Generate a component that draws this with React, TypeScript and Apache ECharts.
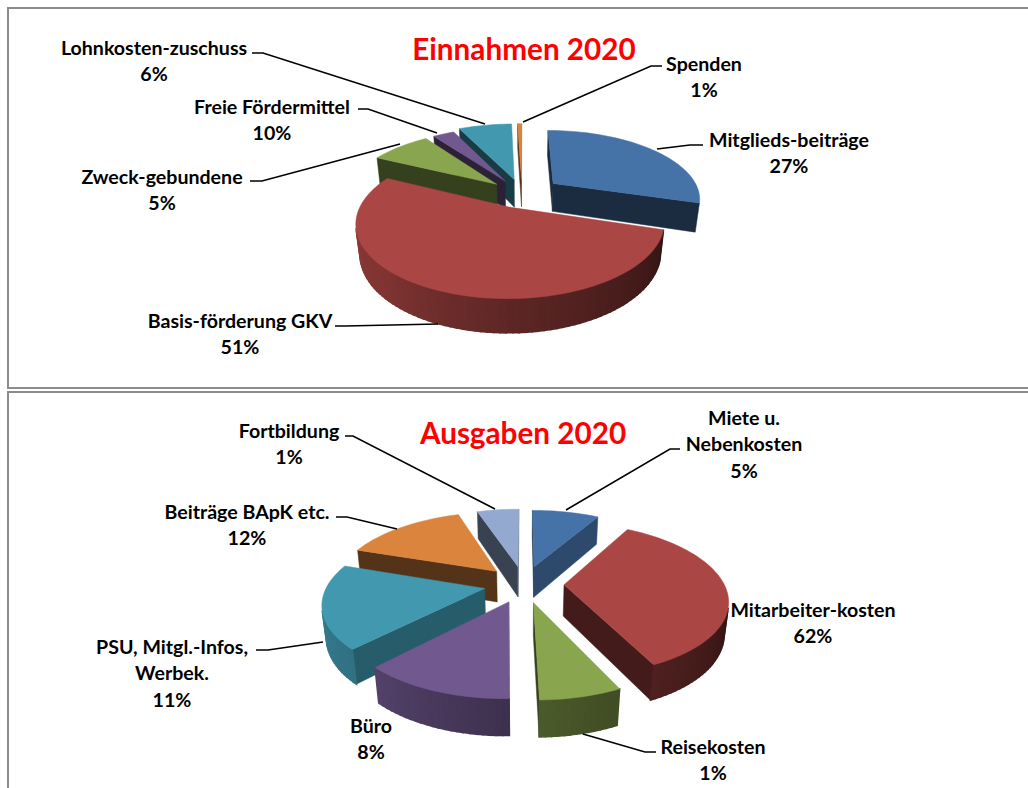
import React, { useEffect, useRef } from "react";
import * as echarts from "echarts";

// Data
const incomeTitle = "Einnahmen 2020";
const incomeCategories = ["Mitglieds-beiträge", "Basis-förderung GKV", "Zweck-gebundene", "Freie Fördermittel", "Lohnkosten-zuschuss", "Spenden"];
const incomePercentLabels = ["27%", "51%", "5%", "10%", "6%", "1%"];
const incomeSliceShares = [29.7, 52.5, 7.8, 2.8, 6.7, 0.5];

const expenseTitle = "Ausgaben 2020";
const expenseCategories = ["Miete u.\nNebenkosten", "Mitarbeiter-kosten", "Reisekosten", "Büro", "PSU, Mitgl.-Infos,\nWerbek.", "Beiträge BApK etc.", "Fortbildung"];
const expensePercentLabels = ["5%", "62%", "1%", "8%", "11%", "12%", "1%"];
const expenseSliceShares = [8.3, 34.7, 6.7, 12.5, 18, 14.7, 5.1];

// Styling and layout
const incomeColors = ["#4572a7", "#aa4643", "#89a54e", "#71588f", "#4198af", "#db843d"];
const expenseColors = ["#4572a7", "#aa4643", "#89a54e", "#71588f", "#4198af", "#db843d", "#93a9cf"];

const incomePie = { cx: 522, cy: 194, d: 640, H: 33, start: 0, radius: [147, 145, 152, 152, 160, 160], explode: [40, 30, 34, 34, 34, 34], colors: incomeColors };
const expensePie = { cx: 524, cy: 584, d: 780, H: 36, start: 0, radius: [157, 160, 157, 157, 157, 162, 160], explode: [40, 40, 40, 40, 40, 40, 40], colors: expenseColors };

const incomeLabelPos = [[789, 139], [240, 320], [162, 176], [272, 106], [154, 47], [704, 63]];
const expenseLabelPos = [[744, 417], [813, 609], [713, 746], [371, 725], [172, 646], [247, 511], [289, 430]];

const leaders = [
  [[703, 145], [690, 145], [657, 149]],
  [[335, 326], [345, 326], [438, 324]],
  [[250, 181], [262, 181], [400, 144]],
  [[358, 109], [368, 109], [437, 133]],
  [[252, 53], [263, 53], [485, 124]],
  [[662, 66], [651, 66], [523, 122]],
  [[680, 449], [670, 449], [566, 510]],
  [[583, 734], [645, 752], [656, 752]],
  [[256, 650], [268, 650], [323, 642]],
  [[336, 517], [347, 517], [397, 529]],
  [[345, 436], [353, 436], [495, 509]],
];

const SIN = 0.46;
const COS = Math.sqrt(1 - SIN * SIN);
const RAD = Math.PI / 180;
const FONT = '"Lato", "Noto Sans", sans-serif';
const LINE_H = 26.5;

function shade(hex: string, b: number) {
  const n = parseInt(hex.slice(1), 16);
  const c = [(n >> 16) & 255, (n >> 8) & 255, n & 255].map((v) => Math.round(v * b));
  return `rgb(${c[0]},${c[1]},${c[2]})`;
}

function piecewise(x: number, pts: number[][]) {
  if (x <= pts[0][0]) return pts[0][1];
  for (let i = 1; i < pts.length; i++) {
    if (x <= pts[i][0]) {
      const t = (x - pts[i - 1][0]) / (pts[i][0] - pts[i - 1][0]);
      return pts[i - 1][1] + t * (pts[i][1] - pts[i - 1][1]);
    }
  }
  return pts[pts.length - 1][1];
}

const outerShade = (phi: number) => {
  const p = ((phi % 360) + 360) % 360;
  return piecewise(p, [[100, 0.28], [180, 0.55], [226, 0.75], [280, 0.85], [360, 0.85]]);
};
const innerShade = (psi: number) => {
  const p = ((psi % 360) + 360) % 360;
  return piecewise(p, [[120, 0.65], [136, 0.6], [187, 0.39], [360, 0.39]]);
};

function sliceRenderer(cfg: any, shares: number[]) {
  const total = shares.reduce((a, b) => a + b, 0);
  const project = (X: number, Y: number, Z: number) => {
    const u = X;
    const v = Y * SIN + Z * COS;
    const w = Y * COS - Z * SIN;
    const s = cfg.d / (cfg.d + w);
    return [cfg.cx + u * s, cfg.cy - v * s];
  };
  const ranges: number[][] = [];
  let acc = cfg.start;
  shares.forEach((v) => {
    const a = (v / total) * 360;
    ranges.push([acc, acc + a]);
    acc += a;
  });
  const depthOrder = ranges
    .map((r, i) => {
      const mid = ((r[0] + r[1]) / 2) * RAD;
      return { i, y: Math.cos(mid) };
    })
    .sort((a, b) => b.y - a.y);
  const rank = (i: number) => depthOrder.findIndex((o) => o.i === i);

  return (params: any, api: any) => {
    const i = params.dataIndex;
    api.value(0);
    const [a0, a1] = ranges[i];
    const mid = ((a0 + a1) / 2) * RAD;
    const ex = cfg.explode[i];
    const R = cfg.radius[i];
    const ox = ex * Math.sin(mid);
    const oy = ex * Math.cos(mid);
    const pt = (phi: number, r: number, z: number) =>
      project(ox + r * Math.sin(phi * RAD), oy + r * Math.cos(phi * RAD), z);
    const color = cfg.colors[i];
    const base = (rank(i) + 1) * 1000;
    const children: any[] = [];
    let n = 0;
    const poly = (points: number[][], fill: string, lw: number) => {
      children.push({
        type: "polygon",
        silent: true,
        z2: base + n++,
        shape: { points },
        style: { fill, stroke: fill, lineWidth: lw },
      });
    };
    const visible = (q: number[][]) => {
      let sum = 0;
      q.forEach((p, k) => {
        const r = q[(k + 1) % q.length];
        sum += p[0] * r[1] - r[0] * p[1];
      });
      return sum < 0;
    };
    const wall = (A: number[], B: number[], A2: number[], B2: number[], fill: string, lw: number) => {
      const q = [A, B, B2, A2];
      if (visible(q)) poly(q, fill, lw);
    };
    const apexT = pt(0, 0, 0);
    const apexB = pt(0, 0, -cfg.H);
    wall(apexT, pt(a0, R, 0), apexB, pt(a0, R, -cfg.H), shade(color, innerShade(a0 - 90)), 0.5);
    wall(pt(a1, R, 0), apexT, pt(a1, R, -cfg.H), apexB, shade(color, innerShade(a1 + 90)), 0.5);
    const steps = Math.max(1, Math.ceil((a1 - a0) / 2));
    const top: number[][] = [apexT];
    for (let k = 0; k <= steps; k++) {
      const p = a0 + ((a1 - a0) * k) / steps;
      top.push(pt(p, R, 0));
      if (k < steps) {
        const q = a0 + ((a1 - a0) * (k + 1)) / steps;
        wall(pt(p, R, 0), pt(q, R, 0), pt(p, R, -cfg.H), pt(q, R, -cfg.H), shade(color, outerShade((p + q) / 2)), 1.5);
      }
    }
    poly(top, color, 0.5);
    return { type: "group", children };
  };
}

function labelElements(names: string[], percents: string[], pos: number[][]) {
  const out: any[] = [];
  names.forEach((name, i) => {
    const lines = [...name.split("\n"), percents[i]];
    lines.forEach((t, k) => {
      out.push({
        type: "text",
        z: 100,
        silent: true,
        style: {
          text: t,
          x: pos[i][0],
          y: pos[i][1] + k * LINE_H,
          align: "center",
          verticalAlign: "middle",
          fontFamily: FONT,
          fontWeight: "bold",
          fontSize: 19.6,
          fill: "#000",
        },
      });
    });
  });
  return out;
}

const frameRect = (x: number, y: number, width: number, height: number) => ({
  type: "rect",
  z: 101,
  silent: true,
  shape: { x, y, width, height },
  style: { fill: "#8c8c8c" },
});

const titleEl = (text: string, x: number, y: number) => ({
  type: "text",
  z: 100,
  silent: true,
  style: { text, x, y, align: "center", verticalAlign: "middle", fontFamily: FONT, fontWeight: "bold", fontSize: 29.7, fill: "#ff0000" },
});

export default function App() {
  const ref = useRef<HTMLDivElement>(null);
  useEffect(() => {
    const chart = echarts.init(ref.current!, null, { renderer: "svg" });
    chart.setOption({
      animation: false,
      backgroundColor: "#fff",
      series: [
        { type: "custom", coordinateSystem: "none", clip: false, silent: true, data: incomeSliceShares, renderItem: sliceRenderer(incomePie, incomeSliceShares) },
        { type: "custom", coordinateSystem: "none", clip: false, silent: true, data: expenseSliceShares, renderItem: sliceRenderer(expensePie, expenseSliceShares) },
      ],
      graphic: {
        elements: [
          frameRect(7, 7, 1021, 2),
          frameRect(7, 7, 2, 382),
          frameRect(7, 387, 1021, 2),
          frameRect(7, 391, 1021, 2),
          frameRect(7, 391, 2, 397),
          titleEl(incomeTitle, 524, 48),
          titleEl(expenseTitle, 523, 432),
          ...labelElements(incomeCategories, incomePercentLabels, incomeLabelPos),
          ...labelElements(expenseCategories, expensePercentLabels, expenseLabelPos),
          ...leaders.map((points) => ({
            type: "polyline",
            z: 99,
            silent: true,
            shape: { points },
            style: { stroke: "#000", lineWidth: 1.6, fill: "none" },
          })),
        ],
      },
    });
    return () => chart.dispose();
  }, []);
  return <div ref={ref} style={{ position: "absolute", left: 0, top: 0, width: 1028, height: 788 }} />;
}
